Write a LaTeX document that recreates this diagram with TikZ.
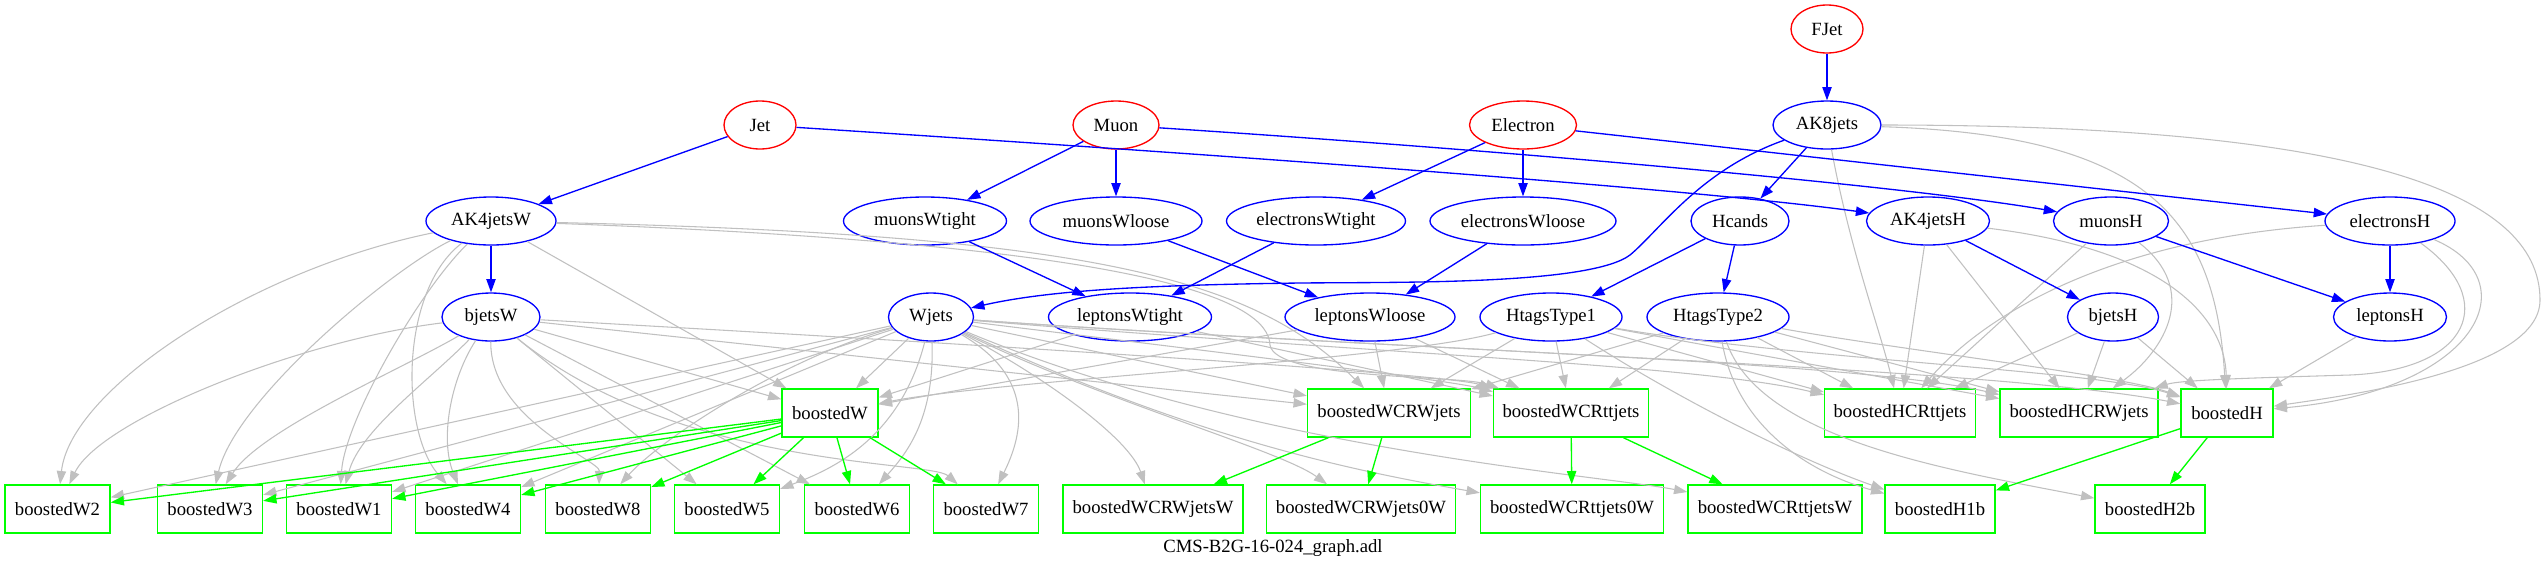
\documentclass[tikz,border=0pt]{standalone}
\usepackage{fontspec}
\setmainfont{Liberation Serif}
\usetikzlibrary{shapes.geometric,arrows.meta,calc}
\definecolor{gvred}{RGB}{255,0,0}
\definecolor{gvblue}{RGB}{0,0,255}
\definecolor{gvgreen}{RGB}{0,255,0}
\definecolor{gvgray}{RGB}{192,192,192}
\begin{document}
\begin{tikzpicture}[x=0.75pt,y=-0.75pt,
  base/.style={font=\fontsize{14}{16}\selectfont, inner sep=0pt, minimum height=36pt, line width=1pt},
  wd/.style={minimum width=#1*0.75pt},
  src/.style={base,ellipse,draw=gvred},
  obj/.style={base,ellipse,draw=gvblue},
  reg/.style={base,rectangle,draw=gvgreen},
  bl/.style={draw=gvblue,line width=1pt,-{Triangle[length=10pt,width=7pt]},fill=none},
  gn/.style={draw=gvgreen,line width=1pt,-{Triangle[length=10pt,width=7pt]}},
  gr/.style={draw=gvgray,line width=0.8pt,-{Triangle[length=10pt,width=7pt]}},
  captext/.style={font=\fontsize{14}{16}\selectfont, inner sep=0pt}]
\useasboundingbox (0,0) rectangle (2548,569);
% row 0/1
\node[src,wd=72] (FJet) at (1827,29) {FJet};
\node[src,wd=72] (Jet) at (760,125) {Jet};
\node[src,wd=86] (Muon) at (1116,125) {Muon};
\node[src,wd=107] (Electron) at (1523,125) {Electron};
\node[obj,wd=108] (AK8jets) at (1827,125) {AK8jets};
% row 2
\node[obj,wd=130] (AK4jetsW) at (491,221) {AK4jetsW};
\node[obj,wd=163] (muonsWtight) at (925,221) {muonsWtight};
\node[obj,wd=172] (muonsWloose) at (1116,221) {muonsWloose};
\node[obj,wd=179] (electronsWtight) at (1316,221) {electronsWtight};
\node[obj,wd=186] (electronsWloose) at (1523,221) {electronsWloose};
\node[obj,wd=98] (Hcands) at (1740,221) {Hcands};
\node[obj,wd=123] (AK4jetsH) at (1928,221) {AK4jetsH};
\node[obj,wd=115] (muonsH) at (2111,221) {muonsH};
\node[obj,wd=130] (electronsH) at (2390,221) {electronsH};
% row 3
\node[obj,wd=98] (bjetsW) at (491,317) {bjetsW};
\node[obj,wd=85] (Wjets) at (931,317) {Wjets};
\node[obj,wd=163] (leptonsWtight) at (1130,317) {leptonsWtight};
\node[obj,wd=170] (leptonsWloose) at (1370,317) {leptonsWloose};
\node[obj,wd=142] (HtagsType1) at (1551,317) {HtagsType1};
\node[obj,wd=142] (HtagsType2) at (1718,317) {HtagsType2};
\node[obj,wd=91] (bjetsH) at (2113,317) {bjetsH};
\node[obj,wd=113] (leptonsH) at (2390,317) {leptonsH};
% row 4
\node[reg,wd=96] (boostedW) at (830,413) {boostedW};
\node[reg,wd=163] (boostedWCRWjets) at (1389,413) {boostedWCRWjets};
\node[reg,wd=155] (boostedWCRttjets) at (1571,413) {boostedWCRttjets};
\node[reg,wd=151] (boostedHCRttjets) at (1900,413) {boostedHCRttjets};
\node[reg,wd=158] (boostedHCRWjets) at (2079,413) {boostedHCRWjets};
\node[reg,wd=92] (boostedH) at (2227,413) {boostedH};
% row 5
\node[reg,wd=105] (boostedW2) at (57.5,509) {boostedW2};
\node[reg,wd=105] (boostedW3) at (210,509) {boostedW3};
\node[reg,wd=105] (boostedW1) at (339,509) {boostedW1};
\node[reg,wd=105] (boostedW4) at (468,509) {boostedW4};
\node[reg,wd=105] (boostedW8) at (598,509) {boostedW8};
\node[reg,wd=105] (boostedW5) at (727,509) {boostedW5};
\node[reg,wd=105] (boostedW6) at (857,509) {boostedW6};
\node[reg,wd=105] (boostedW7) at (986,509) {boostedW7};
\node[reg,wd=180] (boostedWCRWjetsW) at (1153,509) {boostedWCRWjetsW};
\node[reg,wd=189] (boostedWCRWjets0W) at (1361,509) {boostedWCRWjets0W};
\node[reg,wd=183] (boostedWCRttjets0W) at (1572,509) {boostedWCRttjets0W};
\node[reg,wd=174] (boostedWCRttjetsW) at (1775,509) {boostedWCRttjetsW};
\node[reg,wd=110] (boostedH1b) at (1940,509) {boostedH1b};
\node[reg,wd=110] (boostedH2b) at (2150,509) {boostedH2b};
\node[captext] (caption) at (1273,548) {CMS-B2G-16-024\_graph.adl};

% ---------------- gray edges ----------------
% AK4jetsW
\draw[gr] (AK4jetsW) .. controls (250,270) and (70,390) .. (boostedW2);
\draw[gr] (AK4jetsW) .. controls (390,270) and (235,400) .. (boostedW3);
\draw[gr] (AK4jetsW) .. controls (420,290) and (345,420) .. (boostedW1);
\draw[gr] (AK4jetsW) .. controls (400,290) and (400,430) .. (boostedW4);
\draw[gr] (AK4jetsW) -- (boostedW);
\draw[gr] (AK4jetsW) .. controls (1100,235) and (1255,280) .. (boostedWCRWjets);
\draw[gr] (AK4jetsW) .. controls (1150,245) and (1268,300) .. (1270,345) .. controls (1275,380) and (1460,375) .. (boostedWCRttjets);
% bjetsW
\draw[gr] (bjetsW) .. controls (300,340) and (100,420) .. (boostedW2);
\draw[gr] (bjetsW) .. controls (400,370) and (260,430) .. (boostedW3);
\draw[gr] (bjetsW) .. controls (430,380) and (360,430) .. (boostedW1);
\draw[gr] (bjetsW) .. controls (450,380) and (440,440) .. (boostedW4);
\draw[gr] (bjetsW) .. controls (490,420) and (600,460) .. (boostedW8);
\draw[gr] (bjetsW) -- (boostedW5);
\draw[gr] (bjetsW) -- (boostedW6);
\draw[gr] (bjetsW) .. controls (680,470) and (930,460) .. (boostedW7);
\draw[gr] (bjetsW) -- (boostedW);
\draw[gr] (bjetsW) -- (boostedWCRWjets);
\draw[gr] (bjetsW) .. controls (900,340) and (1440,372) .. (boostedWCRttjets);
% Wjets
\draw[gr] (Wjets) -- (boostedW2);
\draw[gr] (Wjets) -- (boostedW3);
\draw[gr] (Wjets) -- (boostedW1);
\draw[gr] (Wjets) -- (boostedW4);
\draw[gr] (Wjets) .. controls (780,360) and (660,440) .. (boostedW8);
\draw[gr] (Wjets) .. controls (900,440) and (830,470) .. (boostedW5);
\draw[gr] (Wjets) .. controls (935,420) and (905,455) .. (boostedW6);
\draw[gr] (Wjets) .. controls (1040,380) and (1020,440) .. (boostedW7);
\draw[gr] (Wjets) -- (boostedW);
\draw[gr] (Wjets) -- (boostedWCRWjets);
\draw[gr] (Wjets) .. controls (1200,350) and (1450,380) .. (boostedWCRttjets);
\draw[gr] (Wjets) .. controls (1050,380) and (1130,440) .. (boostedWCRWjetsW);
\draw[gr] (Wjets) .. controls (1100,400) and (1280,450) .. (boostedWCRWjets0W);
\draw[gr] (Wjets) .. controls (1200,440) and (1350,470) .. (boostedWCRttjets0W);
\draw[gr] (Wjets) .. controls (1250,450) and (1600,475) .. (boostedWCRttjetsW);
\draw[gr] (Wjets) .. controls (1400,355) and (1700,365) .. (boostedHCRttjets);
\draw[gr] (Wjets) .. controls (1400,350) and (1850,360) .. (boostedHCRWjets);
\draw[gr] (Wjets) .. controls (1400,350) and (2000,368) .. (boostedH);
% leptons W
\draw[gr] (leptonsWtight) -- (boostedW);
\draw[gr] (leptonsWtight) -- (boostedWCRttjets);
\draw[gr] (leptonsWloose) -- (boostedW);
\draw[gr] (leptonsWloose) -- (boostedWCRWjets);
\draw[gr] (leptonsWloose) -- (boostedWCRttjets);
% Htags
\draw[gr] (HtagsType1) .. controls (1400,360) and (1000,380) .. (boostedW);
\draw[gr] (HtagsType1) -- (boostedWCRWjets);
\draw[gr] (HtagsType1) -- (boostedWCRttjets);
\draw[gr] (HtagsType1) -- (boostedHCRttjets);
\draw[gr] (HtagsType1) -- (boostedHCRWjets);
\draw[gr] (HtagsType1) .. controls (1800,360) and (2100,370) .. (boostedH);
\draw[gr] (HtagsType1) .. controls (1680,400) and (1800,460) .. (boostedH1b);
\draw[gr] (HtagsType2) -- (boostedWCRWjets);
\draw[gr] (HtagsType2) -- (boostedWCRttjets);
\draw[gr] (HtagsType2) -- (boostedHCRttjets);
\draw[gr] (HtagsType2) -- (boostedHCRWjets);
\draw[gr] (HtagsType2) .. controls (1900,350) and (2120,375) .. (boostedH);
\draw[gr] (HtagsType2) .. controls (1735,420) and (1800,470) .. (boostedH1b);
\draw[gr] (HtagsType2) .. controls (1760,440) and (1950,470) .. (boostedH2b);
% H side
\draw[gr] (AK8jets) .. controls (1850,250) and (1880,330) .. (boostedHCRttjets);
\draw[gr] (AK8jets) .. controls (2150,135) and (2215,220) .. (boostedH);
\draw[gr] (AK8jets) .. controls (2350,125) and (2540,190) .. (2540,300) .. controls (2540,370) and (2350,395) .. (boostedH);
\draw[gr] (AK4jetsH) -- (boostedHCRttjets);
\draw[gr] (AK4jetsH) -- (boostedHCRWjets);
\draw[gr] (AK4jetsH) .. controls (2170,250) and (2225,320) .. (boostedH);
\draw[gr] (muonsH) -- (boostedHCRttjets);
\draw[gr] (muonsH) .. controls (2200,290) and (2165,350) .. (boostedHCRWjets);
\draw[gr] (electronsH) .. controls (2100,240) and (1980,320) .. (boostedHCRttjets);
\draw[gr] (electronsH) .. controls (2500,300) and (2470,370) .. (2350,375) .. controls (2250,378) and (2180,380) .. (boostedHCRWjets);
\draw[gr] (electronsH) .. controls (2530,280) and (2480,390) .. (boostedH);
\draw[gr] (bjetsH) -- (boostedHCRttjets);
\draw[gr] (bjetsH) -- (boostedHCRWjets);
\draw[gr] (bjetsH) -- (boostedH);
\draw[gr] (leptonsH) -- (boostedH);

% ---------------- green edges ----------------
\foreach \t in {boostedW2,boostedW3,boostedW1,boostedW4,boostedW8,boostedW5,boostedW6,boostedW7}
  \draw[gn] (boostedW) -- (\t);
\draw[gn] (boostedWCRWjets) -- (boostedWCRWjetsW);
\draw[gn] (boostedWCRWjets) -- (boostedWCRWjets0W);
\draw[gn] (boostedWCRttjets) -- (boostedWCRttjets0W);
\draw[gn] (boostedWCRttjets) -- (boostedWCRttjetsW);
\draw[gn] (boostedH) -- (boostedH1b);
\draw[gn] (boostedH) -- (boostedH2b);

% ---------------- blue edges ----------------
\draw[bl] (FJet) -- (AK8jets);
\draw[bl] (Jet) -- (AK4jetsW);
\draw[bl] (Jet) .. controls (1300,160) and (1700,190) .. (AK4jetsH);
\draw[bl] (Muon) -- (muonsWtight);
\draw[bl] (Muon) -- (muonsWloose);
\draw[bl] (Muon) .. controls (1500,150) and (1900,185) .. (muonsH);
\draw[bl] (Electron) -- (electronsWtight);
\draw[bl] (Electron) -- (electronsWloose);
\draw[bl] (Electron) -- (electronsH);
\draw[bl] (AK8jets) .. controls (1700,170) and (1660,230) .. (1630,255) .. controls (1590,285) and (1400,282) .. (1300,283) .. controls (1150,285) and (1050,290) .. (Wjets);
\draw[bl] (AK8jets) -- (Hcands);
\draw[bl] (AK4jetsW) -- (bjetsW);
\draw[bl] (muonsWtight) -- (leptonsWtight);
\draw[bl] (electronsWtight) -- (leptonsWtight);
\draw[bl] (muonsWloose) -- (leptonsWloose);
\draw[bl] (electronsWloose) -- (leptonsWloose);
\draw[bl] (Hcands) -- (HtagsType1);
\draw[bl] (Hcands) -- (HtagsType2);
\draw[bl] (AK4jetsH) -- (bjetsH);
\draw[bl] (muonsH) -- (leptonsH);
\draw[bl] (electronsH) -- (leptonsH);
\end{tikzpicture}
\end{document}
